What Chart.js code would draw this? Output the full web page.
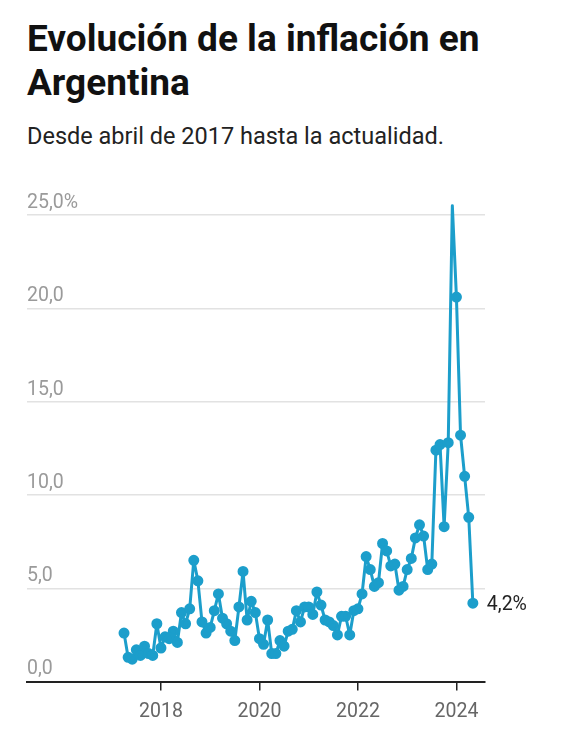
<!DOCTYPE html>
<html>
<head>
<meta charset="utf-8">
<script src="https://cdn.jsdelivr.net/npm/chart.js@4.4.1/dist/chart.umd.min.js"></script>
<style>
	body { margin: 0; background: #fff; font-family: Roboto, sans-serif; }
	#wrap { position: relative; width: 570px; height: 750px; overflow: hidden; }
	h1 { position: absolute; left: 27px; top: 17px; margin: 0; font-size: 37px; line-height: 44px; font-weight: 700; color: #111; width: 540px; }
	p { position: absolute; left: 27px; top: 122px; margin: 0; font-size: 23.5px; color: #222; }
	#chartBox { position: absolute; left: 0; top: 160px; width: 570px; height: 590px; }
</style>
</head>
<body>
<div id="wrap">
	<h1>Evolución de la inflación en Argentina</h1>
	<p>Desde abril de 2017 hasta la actualidad.</p>
	<div id="chartBox"><canvas id="chart-infl" width="570" height="590"></canvas></div>
</div>
<script>
// monthly inflation (%), April 2017 to May 2024
let startYear = 2017, startMonth = 4
let inflation = [
	2.6, 1.3, 1.2, 1.7, 1.4, 1.9, 1.5, 1.4, 3.1, // 2017 apr-dec
	1.8, 2.4, 2.3, 2.7, 2.1, 3.7, 3.1, 3.9, 6.5, 5.4, 3.2, 2.6, // 2018
	2.9, 3.8, 4.7, 3.4, 3.1, 2.7, 2.2, 4.0, 5.9, 3.3, 4.3, 3.7, // 2019
	2.3, 2.0, 3.3, 1.5, 1.5, 2.2, 1.9, 2.7, 2.8, 3.8, 3.2, 4.0, // 2020
	4.0, 3.6, 4.8, 4.1, 3.3, 3.2, 3.0, 2.5, 3.5, 3.5, 2.5, 3.8, // 2021
	3.9, 4.7, 6.7, 6.0, 5.1, 5.3, 7.4, 7.0, 6.2, 6.3, 4.9, 5.1, // 2022
	6.0, 6.6, 7.7, 8.4, 7.8, 6.0, 6.3, 12.4, 12.7, 8.3, 12.8, 25.5, // 2023
	20.6, 13.2, 11.0, 8.8, 4.2 // 2024 jan-may
]
let yearTicks = [2018, 2020, 2022, 2024]
let yTicks = [0, 5, 10, 15, 20, 25]

let points = inflation.map((v, i) => ({
	x: startYear + (startMonth - 1 + i) / 12,
	y: v
}))

let fmt = v => v.toFixed(1).replace('.', ',')

let lastLabel = {
	id: 'lastLabel',
	afterDatasetsDraw(chart) {
		let meta = chart.getDatasetMeta(0)
		let pt = meta.data[meta.data.length - 1]
		let ctx = chart.ctx
		ctx.save()
		ctx.font = '19.5px Roboto'
		ctx.fillStyle = '#222'
		ctx.textBaseline = 'middle'
		ctx.fillText(fmt(inflation[inflation.length - 1]) + '%', pt.x + 14, pt.y + 2)
		ctx.restore()
	}
}

new Chart(document.getElementById('chart-infl'), {
	type: 'line',
	data: {
		datasets: [{
			data: points,
			borderColor: '#1c9ecb',
			backgroundColor: '#1c9ecb',
			borderWidth: 3,
			borderJoinStyle: 'round',
			pointRadius: 4,
			pointHoverRadius: 4,
			tension: 0,
			clip: false
		}]
	},
	options: {
		responsive: false,
		animation: false,
		maintainAspectRatio: false,
		layout: { padding: { left: 27, right: 85, top: 55, bottom: 16 } },
		plugins: { legend: { display: false }, tooltip: { enabled: false } },
		scales: {
			x: {
				type: 'linear',
				min: 2015.28,
				max: 2024.58,
				afterBuildTicks: axis => { axis.ticks = yearTicks.map(v => ({ value: v })) },
				ticks: {
					font: { family: 'Roboto', size: 19.5 },
					color: '#666',
					padding: 10,
					maxRotation: 0,
					callback: v => String(v)
				},
				grid: { drawOnChartArea: false, drawTicks: true, tickLength: 9, color: '#222', lineWidth: 1.5 },
				border: { color: '#222', width: 2 }
			},
			y: {
				min: 0,
				max: 25,
				afterBuildTicks: axis => { axis.ticks = yTicks.map(v => ({ value: v })) },
				ticks: {
					mirror: true,
					padding: 0,
					labelOffset: -12,
					font: { family: 'Roboto', size: 19.5 },
					color: '#9a9a9a',
					callback: v => v == 25 ? fmt(v) + '%' : fmt(v)
				},
				grid: { drawTicks: false, color: '#e2e2e2', lineWidth: 1.5 },
				border: { display: false }
			}
		}
	},
	plugins: [lastLabel]
})
</script>
</body>
</html>
